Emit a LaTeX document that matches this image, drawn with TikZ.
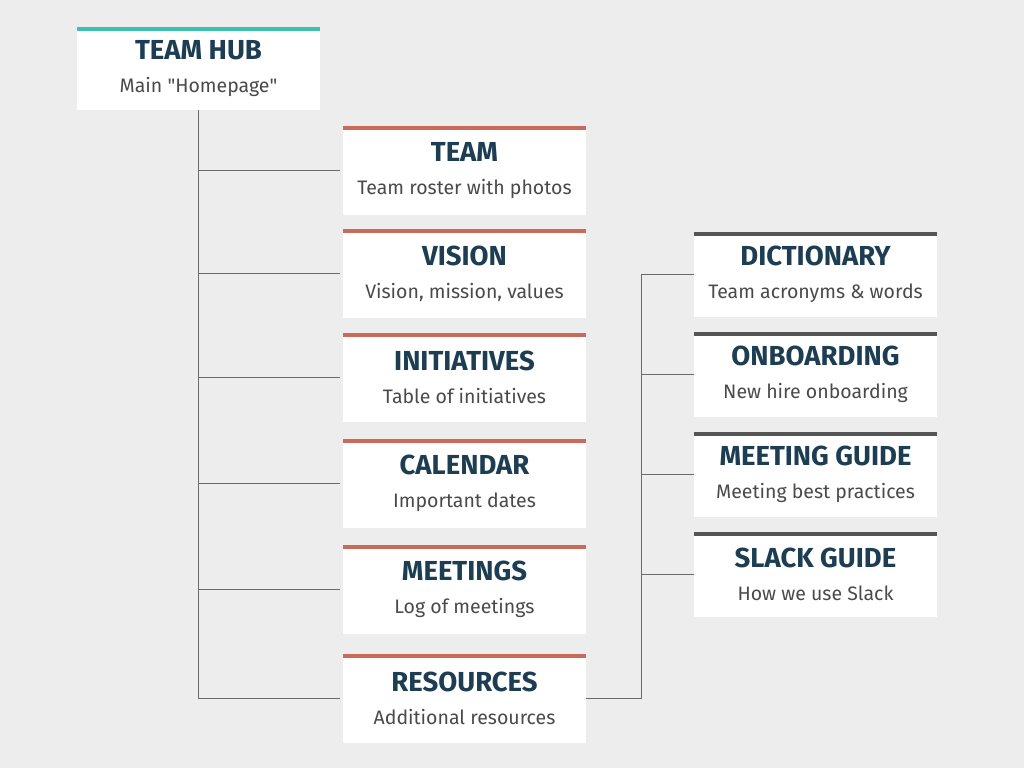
\documentclass[tikz,border=0pt]{standalone}
\usepackage{fontspec}
\setmainfont{Fira Sans}
\usetikzlibrary{calc}

\definecolor{bgGrey}{HTML}{EDEDED}
\definecolor{hubTeal}{HTML}{3FBFB1}
\definecolor{pageCoral}{HTML}{CB6A5A}
\definecolor{guideGrey}{HTML}{555555}
\definecolor{titleNavy}{HTML}{1C3D52}
\definecolor{subGrey}{HTML}{4A4A4A}
\definecolor{linkGrey}{HTML}{6A6A6A}

\tikzset{
    card/.style={fill=white, minimum width=243pt, minimum height=#1, inner sep=0pt,
        align=center, text=subGrey, font=\fontsize{19.5}{35}\selectfont},
    hubcard/.style={card=83pt, path picture={\fill[hubTeal] (path picture bounding box.north west) rectangle ([yshift=-4pt]path picture bounding box.north east);}},
    pagecard/.style={card=89pt, path picture={\fill[pageCoral] (path picture bounding box.north west) rectangle ([yshift=-4pt]path picture bounding box.north east);}},
    guidecard/.style={card=85pt, path picture={\fill[guideGrey] (path picture bounding box.north west) rectangle ([yshift=-4pt]path picture bounding box.north east);}},
    link/.style={draw=linkGrey, line width=1pt}
}
\newcommand{\cardtext}[2]{{\fontsize{27.5}{35}\selectfont\bfseries\color{titleNavy}#1}\\[-2pt]#2}

\begin{document}
\begin{tikzpicture}[x=1pt, y=-1pt]

    % background
    \fill[bgGrey] (0,0) rectangle (1024,768);
    \useasboundingbox (0,0) rectangle (1024,768);

    % main homepage
    \node[hubcard] (hub) at (198.5, 68.5) {\cardtext{TEAM HUB}{Main \textquotedbl Homepage\textquotedbl}};

    % pages below the hub
    \node[pagecard] (team) at (464.5, 170.5) {\cardtext{TEAM}{Team roster with photos}};
    \node[pagecard] (vision) at (464.5, 273.5) {\cardtext{VISION}{Vision, mission, values}};
    \node[pagecard] (initiatives) at (464.5, 377) {\cardtext{INITIATIVES}{Table of initiatives}};
    \node[pagecard] (calendar) at (464.5, 483.5) {\cardtext{CALENDAR}{Important dates}};
    \node[pagecard] (meetings) at (464.5, 589.5) {\cardtext{MEETINGS}{Log of meetings}};
    \node[pagecard] (resources) at (464.5, 698) {\cardtext{RESOURCES}{Additional resources}};

    % resource pages
    \node[guidecard] (dictionary) at (815.5, 274.5) {\cardtext{DICTIONARY}{Team acronyms \& words}};
    \node[guidecard] (onboarding) at (815.5, 374.5) {\cardtext{ONBOARDING}{New hire onboarding}};
    \node[guidecard] (meetguide) at (815.5, 474.5) {\cardtext{MEETING GUIDE}{Meeting best practices}};
    \node[guidecard] (slackguide) at (815.5, 574.5) {\cardtext{SLACK GUIDE}{How we use Slack}};

    % hub tree
    \draw[link] (hub.south) |- ([xshift=-3pt]resources.west);
    \foreach \p in {team, vision, initiatives, calendar, meetings} {
        \draw[link] (hub.south |- \p.west) -- ([xshift=-3pt]\p.west);
    }

    % resources tree
    \coordinate (rtrunk) at (641, 0);
    \draw[link] (resources.east) -- (rtrunk |- resources.east) |- (dictionary.west);
    \foreach \p in {onboarding, meetguide, slackguide} {
        \draw[link] (rtrunk |- \p.west) -- (\p.west);
    }

\end{tikzpicture}
\end{document}
